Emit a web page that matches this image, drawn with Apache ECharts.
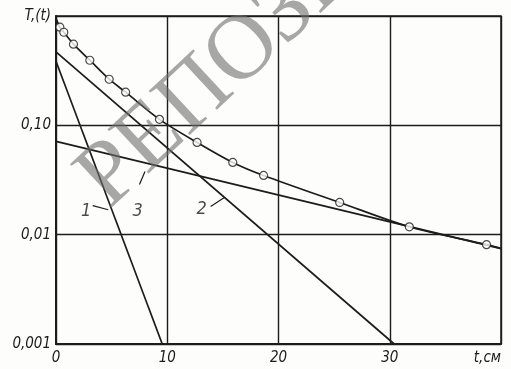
<!DOCTYPE html>
<html>
<head>
<meta charset="utf-8">
<script src="https://cdn.jsdelivr.net/npm/echarts@6/dist/echarts.min.js"></script>
<style>
  html, body { margin: 0; padding: 0; background: #fdfdfb; }
  #chart { width: 511px; height: 369px; }
</style>
</head>
<body>
<div id="chart"></div>
<script>
// tick labels
const xTicks = [0, 10, 20, 30, 40]
const xTickLabels = ['0', '10', '20', '30', 't,см']
const yTicks = [0.001, 0.01, 0.1, 1]
const yTickLabels = ['0,001', '0,01', '0,10', 'T,(t)']

// measured points (circles)
const measT = [0.35, 0.7, 1.57, 3.04, 4.78, 6.26, 9.3, 12.68, 15.89, 18.66, 25.5, 31.76, 38.7]
const measV = [0.79, 0.71, 0.553, 0.394, 0.264, 0.201, 0.1135, 0.0698, 0.0458, 0.0348, 0.0197, 0.0118, 0.0081]

// summed curve through the circles
const sumT = [0, 0.35, 0.7, 1.57, 3.04, 4.78, 6.26, 9.3, 12.68, 15.89, 18.66, 25.5, 31.76, 38.7, 40]
const sumV = [0.95, 0.79, 0.71, 0.553, 0.394, 0.264, 0.201, 0.1135, 0.0698, 0.0458, 0.0348, 0.0197, 0.0118, 0.0081, 0.0075]

// components 1, 2, 3 (straight on log scale)
const line1T = [0, 9.55]
const line1V = [0.386, 0.001]
const line2T = [0, 30.4]
const line2V = [0.47, 0.001]
const line3T = [0, 40]
const line3V = [0.0713, 0.00745]

// curve numbers and their leader strokes
const tagText = ['1', '3', '2']
const tagT = [2.7, 7.35, 13.1]
const tagV = [0.0165, 0.0165, 0.017]
const leaders = [
  [[3.3, 0.01845], [4.7, 0.0169]],
  [[7.5, 0.0288], [8.0, 0.0379]],
  [[13.9, 0.0181], [15.1, 0.0218]]
]

const zip = (a, b) => a.map((v, i) => [v, b[i]])
const ink = '#1c1c1c'
const font = { fontFamily: '"DejaVu Sans Condensed", "DejaVu Sans"', fontStyle: 'italic', fontSize: 15, color: ink }

const lineSeries = (t, v, w) => ({
  type: 'line',
  data: zip(t, v),
  showSymbol: false,
  lineStyle: { color: ink, width: w },
  silent: true,
  z: 3
})

const chart = echarts.init(document.getElementById('chart'))
chart.setOption({
  animation: false,
  backgroundColor: '#fdfdfb',
  grid: { left: 56, right: 10, top: 16, bottom: 25, show: true, borderColor: ink, borderWidth: 1.5, backgroundColor: 'transparent' },
  xAxis: {
    type: 'value', min: 0, max: 40, interval: 10,
    axisLine: { show: true, lineStyle: { color: ink, width: 2 } },
    axisTick: { show: false },
    splitLine: { show: true, lineStyle: { color: ink, width: 1.4 } },
    axisLabel: Object.assign({
      margin: 7,
      alignMaxLabel: 'right',
      formatter: v => xTickLabels[xTicks.indexOf(v)]
    }, font)
  },
  yAxis: {
    type: 'log', logBase: 10, min: 0.001, max: 1,
    axisLine: { show: true, lineStyle: { color: ink, width: 2 } },
    axisTick: { show: false },
    splitLine: { show: true, lineStyle: { color: ink, width: 1.4 } },
    minorSplitLine: { show: false },
    axisLabel: Object.assign({
      margin: 5,
      formatter: v => {
        const i = yTicks.findIndex(y => Math.abs(Math.log10(y) - Math.log10(v)) < 1e-6)
        return i < 0 ? '' : yTickLabels[i]
      }
    }, font)
  },
  series: [
    lineSeries(line1T, line1V, 1.7),
    lineSeries(line2T, line2V, 1.7),
    lineSeries(line3T, line3V, 1.7),
    Object.assign(lineSeries(sumT, sumV, 1.7), { smooth: 0.3 }),
    {
      type: 'scatter',
      data: zip(measT, measV),
      symbol: 'circle',
      symbolSize: 8,
      itemStyle: { color: '#fff', borderColor: ink, borderWidth: 1.2 },
      z: 5
    },
    {
      type: 'scatter',
      data: tagT.map((t, i) => ({ value: [t, tagV[i]], name: tagText[i] })),
      symbolSize: 0,
      label: Object.assign({ show: true, position: 'inside', formatter: p => p.name }, font, { fontSize: 18 }),
      z: 6
    },
    {
      type: 'lines',
      coordinateSystem: 'cartesian2d',
      data: leaders.map(c => ({ coords: c })),
      lineStyle: { color: ink, width: 1.2, opacity: 1 },
      z: 6
    }
  ],
  // scanned page watermark
  graphic: [{
    type: 'text',
    x: 124, y: 226,
    rotation: 0.75,
    silent: true,
    z: 100,
    style: {
      text: 'РЕПОЗИТОРИЙ',
      font: '92px "Liberation Serif"',
      fill: 'rgba(110,110,110,0.6)',
      textVerticalAlign: 'bottom'
    }
  }]
})
</script>
</body>
</html>
